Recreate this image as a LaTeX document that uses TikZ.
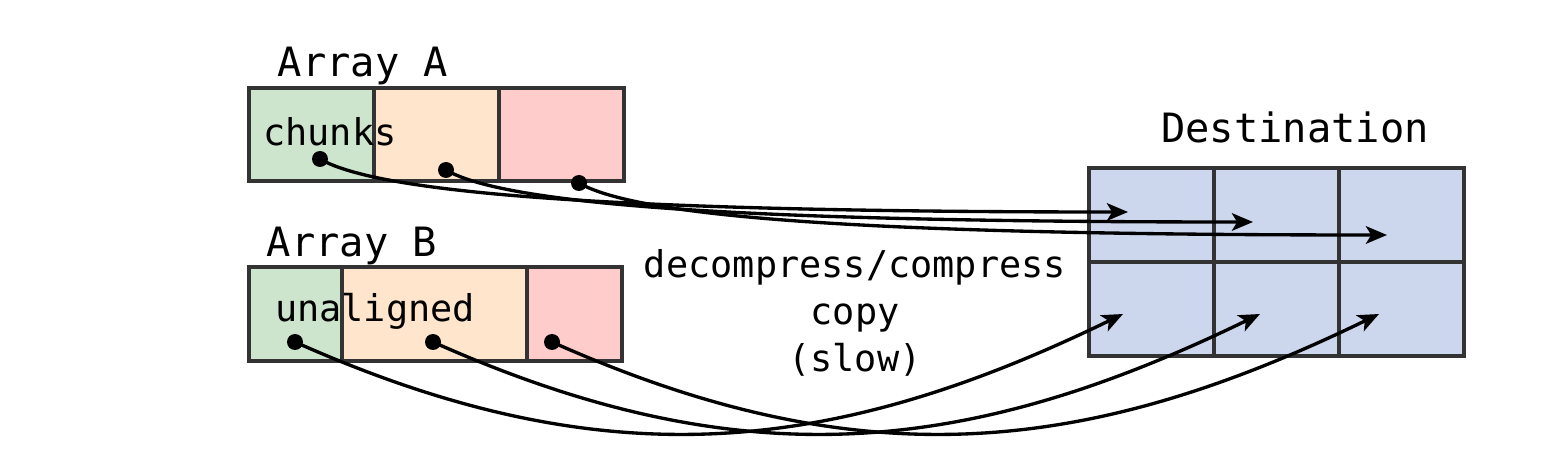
\documentclass[tikz,border=0pt]{standalone}
\usepackage{fontspec}
\setmonofont{DejaVu Sans Mono}
\usetikzlibrary{arrows.meta}

\definecolor{cellgray}{HTML}{333333}
\definecolor{chunkgreen}{HTML}{CDE5CC}
\definecolor{chunkorange}{HTML}{FFE5CC}
\definecolor{chunkred}{HTML}{FFCCCC}
\definecolor{destblue}{HTML}{CCD6ED}

\tikzset{
  cell/.style={draw=cellgray, line width=1.8pt, inner sep=0pt, outer sep=0pt, anchor=north west},
  dot/.style={circle, fill=black, inner sep=0pt, minimum size=0.32cm},
  copyarrow/.style={line width=1.9pt, -{Stealth[length=12pt,width=10pt,inset=3pt]}},
  heading/.style={font=\ttfamily\fontsize{23}{28}\selectfont, anchor=base},
  txt/.style={font=\ttfamily\fontsize{21}{27}\selectfont, anchor=base},
}

\begin{document}
\begin{tikzpicture}[x=0.02cm,y=-0.02cm]

\fill[white] (0,0) rectangle (1563,469);
\useasboundingbox (0,0) rectangle (1563,469);

% Array A
\node[cell, fill=chunkgreen, minimum width=2.5cm, minimum height=1.86cm] (A1) at (249,88) {};
\node[cell, fill=chunkorange, minimum width=2.5cm, minimum height=1.86cm] (A2) at (A1.north east) {};
\node[cell, fill=chunkred, minimum width=2.5cm, minimum height=1.86cm] (A3) at (A2.north east) {};
\node[heading] (titleA) at (363,77) {Array A};
\node[txt] (chunks) at (330,146) {chunks};

% Array B
\node[cell, fill=chunkgreen, minimum width=1.86cm, minimum height=1.88cm] (B1) at (249,267) {};
\node[cell, fill=chunkorange, minimum width=3.7cm, minimum height=1.88cm] (B2) at (B1.north east) {};
\node[cell, fill=chunkred, minimum width=1.9cm, minimum height=1.88cm] (B3) at (B2.north east) {};
\node[heading] (titleB) at (352,257) {Array B};
\node[txt] (unaligned) at (375,322) {unaligned};

% Destination
\foreach \r/\y in {0/168,1/262} {
  \foreach \c/\x in {0/1089,1/1214,2/1339} {
    \node[cell, fill=destblue, minimum width=2.5cm, minimum height=1.88cm] (D\r\c) at (\x,\y) {};
  }
}
\node[heading] (titleD) at (1295,143) {Destination};

% Middle
\node[txt, align=center] (slowcopy) at (855,372) {decompress/compress\\copy\\(slow)};

% Chunk starts and targets
\node[dot] (a1) at (320,159) {};
\node[dot] (a2) at (446,170) {};
\node[dot] (a3) at (579,183) {};
\node[dot] (b1) at (295,342) {};
\node[dot] (b2) at (433,342) {};
\node[dot] (b3) at (552,342) {};
\coordinate (ta1) at (1128,212);
\coordinate (ta2) at (1253,222);
\coordinate (ta3) at (1387,235);
\coordinate (tb1) at (1123,314);
\coordinate (tb2) at (1260,314);
\coordinate (tb3) at (1379,314);

\foreach \s/\t in {a1/ta1,a2/ta2,a3/ta3} {
  \draw[copyarrow] (\s.center) .. controls +(60,35) and +(-508,0) .. (\t);
}
\foreach \s/\t in {b1/tb1,b2/tb2,b3/tb3} {
  \draw[copyarrow] (\s.center) .. controls +(307,137) and +(-294,143) .. (\t);
}

\end{tikzpicture}
\end{document}
